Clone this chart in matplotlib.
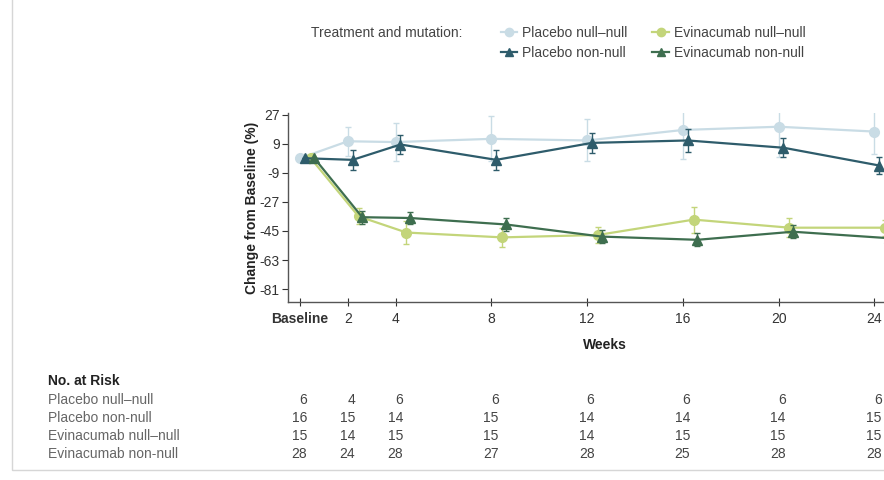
import numpy as np
import matplotlib
matplotlib.use("Agg")
import matplotlib.pyplot as plt
from matplotlib.lines import Line2D
from matplotlib.patches import Rectangle
from matplotlib import transforms

plt.rcParams['font.family'] = ['Liberation Sans Narrow', 'Liberation Sans', 'DejaVu Sans']
plt.rcParams['axes.unicode_minus'] = False

# ---- data ----
weeks = [0, 2, 4, 8, 12, 16, 20, 24]
week_labels = ['Baseline', '2', '4', '8', '12', '16', '20', '24']

series_names = ['Placebo null\u2013null', 'Placebo non-null',
                'Evinacumab null\u2013null', 'Evinacumab non-null']

placebo_nullnull = [0, 10.5, 10, 12, 11, 17.5, 19.5, 16.5]
placebo_nullnull_se = [0, 9, 12, 14, 13, 18, 19, 14]

placebo_nonnull = [0, -1, 8.5, -1, 9.5, 11, 6.5, -4.5]
placebo_nonnull_se = [0, 6, 6, 6, 6, 7, 6, 5]

evin_nullnull = [0, -36, -46, -49, -47.5, -38, -43, -43]
evin_nullnull_se = [0, 5, 7, 6, 5, 8, 6, 5]

evin_nonnull = [0, -36.5, -37, -41, -48.5, -50.5, -45.5, -49.5]
evin_nonnull_se = [0, 4, 4, 4, 4, 4, 4, 4]

risk_placebo_nullnull = [6, 4, 6, 6, 6, 6, 6, 6]
risk_placebo_nonnull = [16, 15, 14, 15, 14, 14, 14, 15]
risk_evin_nullnull = [15, 14, 15, 15, 14, 15, 15, 15]
risk_evin_nonnull = [28, 24, 28, 27, 28, 25, 28, 28]

# ---- styles ----
colors = ['#c9dce5', '#2e5c6b', '#c3d57a', '#3e6e4f']
markers = ['o', '^', 'o', '^']
offsets = [0.0, 0.2, 0.45, 0.6]
zorders = [2, 4, 3, 5]

fig = plt.figure(figsize=(8.84, 4.8), dpi=100)
W, H = 884.0, 480.0

# light frame
fig.patches.append(Rectangle((12 / W, 10 / H), 1.2, 1.2, transform=fig.transFigure,
                             fill=False, edgecolor='#d6d6d6', linewidth=1.0))

ax = fig.add_axes([288 / W, (480 - 302) / H, (884 - 288) / W, (302 - 113) / H])

all_vals = [placebo_nullnull, placebo_nonnull, evin_nullnull, evin_nonnull]
all_se = [placebo_nullnull_se, placebo_nonnull_se, evin_nullnull_se, evin_nonnull_se]

for i in range(4):
    x = np.array(weeks) + offsets[i]
    ax.errorbar(x, all_vals[i], yerr=all_se[i], color=colors[i], ecolor=colors[i],
                marker=markers[i], markersize=7, linewidth=1.6, elinewidth=1.0,
                capsize=2.5, capthick=1.0, zorder=zorders[i], clip_on=True)

ax.set_xlim(-0.5, 24.4)
ax.set_ylim(-89, 28)
ax.set_xticks(weeks)
ax.set_xticklabels(week_labels)
ax.set_yticks([27, 9, -9, -27, -45, -63, -81])
ax.tick_params(axis='x', direction='inout', length=6, width=0.8, labelsize=10,
               colors='#333333', pad=4)
ax.tick_params(axis='y', direction='out', length=4, width=0.8, labelsize=10,
               colors='#333333', pad=2)
ax.get_xticklabels()[0].set_fontweight('bold')
for side in ['top', 'right']:
    ax.spines[side].set_visible(False)
for side in ['left', 'bottom']:
    ax.spines[side].set_color('#555555')
    ax.spines[side].set_linewidth(1.0)

ax.set_ylabel('Change from Baseline (%)', fontsize=10, fontweight='bold', color='#222222')
ax.yaxis.set_label_coords(-29 / 596, 0.5)
ax.set_xlabel('Weeks', fontsize=10, fontweight='bold', color='#222222')
ax.xaxis.set_label_coords((605 - 288) / 596, -36 / 189)

# legend
handles = [Line2D([0], [0], color=colors[i], marker=markers[i], markersize=6,
                  linewidth=1.6) for i in range(4)]
fig.text(311 / W, 1 - 33 / H, 'Treatment and mutation:', fontsize=10,
         color='#444444', va='center', ha='left')
fig.legend(handles, series_names, ncol=2, loc='center left',
           bbox_to_anchor=(488 / W, 1 - 43 / H), frameon=False, fontsize=10,
           handlelength=1.2, handletextpad=0.35, columnspacing=1.8,
           labelspacing=0.45, labelcolor='#444444')

# risk table
fig.text(48 / W, 1 - 381 / H, 'No. at Risk', fontsize=10, fontweight='bold',
         color='#222222', va='center')
risk_rows = [risk_placebo_nullnull, risk_placebo_nonnull, risk_evin_nullnull, risk_evin_nonnull]
row_y = [400, 418, 436, 454]
trans = transforms.blended_transform_factory(ax.transData, fig.transFigure)
for name, row, y in zip(series_names, risk_rows, row_y):
    fig.text(48 / W, 1 - y / H, name, fontsize=10, color='#666666', va='center')
    for wk, n in zip(weeks, row):
        ax.text(wk + 0.3, 1 - y / H, str(n), transform=trans, fontsize=10,
                color='#444444', ha='right', va='center', clip_on=False)

fig.savefig('out.png', dpi=100)
